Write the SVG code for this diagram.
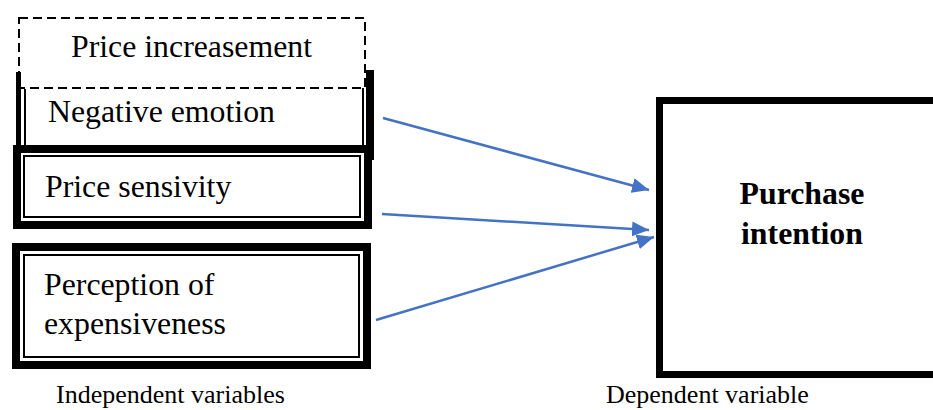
<svg xmlns="http://www.w3.org/2000/svg" width="933" height="410" viewBox="0 0 933 410">
<style>
.t{font-family:"Liberation Serif","Times New Roman",serif;font-size:31.8px;fill:#000}
.b{font-weight:bold;text-anchor:middle}
.s{font-size:26px}
.thick{fill:none;stroke:#000;stroke-width:8}
.thin{fill:none;stroke:#000;stroke-width:2}
.arr{stroke:#4472C4;stroke-width:2.5;fill:none;marker-end:url(#ah)}
</style>
<defs>
<marker id="ah" markerUnits="userSpaceOnUse" markerWidth="18" markerHeight="15" refX="17" refY="7.5" orient="auto">
<path d="M0,0 L17,7.5 L0,15 Z" fill="#4472C4"/>
</marker>
</defs>
<rect width="933" height="410" fill="#fff"/>
<g id="negative-emotion">
<line x1="25" y1="89" x2="25" y2="146" class="thin"/>
<line x1="363" y1="88" x2="363" y2="146" class="thin"/>
<text x="48" y="122" class="t">Negative emotion</text>
</g>
<g id="price-increasement">
<rect x="19" y="18" width="346" height="70" fill="#fff" stroke="#000" stroke-width="2" stroke-dasharray="9 5"/>
<text x="71" y="57" class="t">Price increasement</text>
</g>
<g id="negative-emotion-border">
<rect x="16" y="72" width="5" height="81" fill="#000"/>
<rect x="366" y="70" width="8" height="90" fill="#000"/>
<rect x="16" y="145" width="358" height="8" fill="#000"/>
</g>
<g id="price-sensivity">
<rect x="17" y="149" width="351" height="76" class="thick"/>
<rect x="24" y="156" width="336" height="61" class="thin"/>
<text x="45" y="197" class="t">Price sensivity</text>
</g>
<g id="perception-of-expensiveness">
<rect x="16" y="247" width="351" height="118" class="thick"/>
<rect x="24" y="255" width="335" height="102" class="thin"/>
<text x="44" y="295" class="t">Perception of</text>
<text x="44" y="334" class="t">expensiveness</text>
</g>
<g id="purchase-intention">
<rect x="659.5" y="100.5" width="300" height="274" fill="none" stroke="#000" stroke-width="7"/>
<text x="802" y="204" class="t b">Purchase</text>
<text x="802" y="244" class="t b">intention</text>
</g>
<g id="connectors">
<line x1="383" y1="118" x2="649" y2="190" class="arr"/>
<line x1="382" y1="214" x2="649" y2="230" class="arr"/>
<line x1="376" y1="320" x2="654" y2="237" class="arr"/>
</g>
<g id="labels">
<text x="56" y="403" class="t s">Independent variables</text>
<text x="606" y="403" class="t s">Dependent variable</text>
</g>
</svg>
